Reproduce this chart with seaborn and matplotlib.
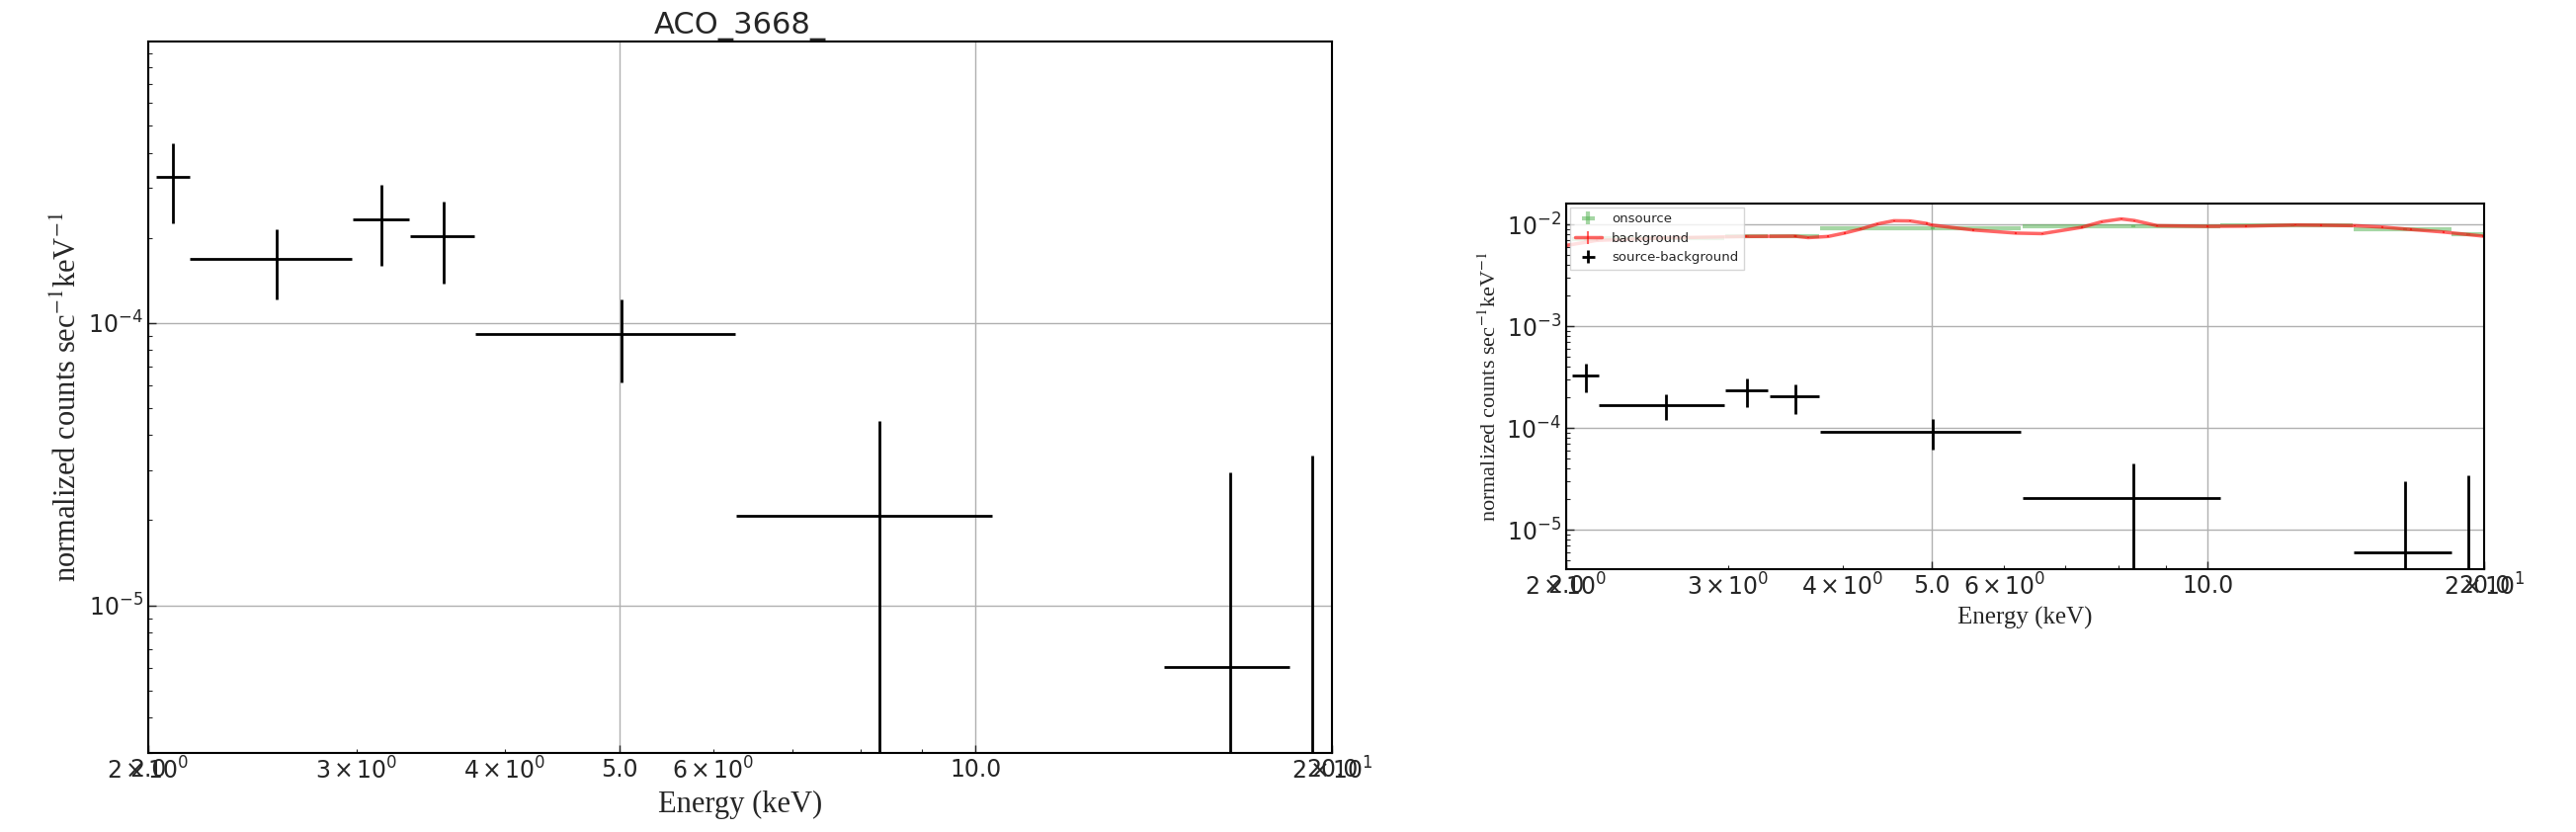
import numpy as np
import matplotlib
matplotlib.use("Agg")
import matplotlib.pyplot as plt
from matplotlib.ticker import FormatStrFormatter
import seaborn as sns

# source - background spectrum (keV, counts/s/keV)
SRC_E = [2.10, 2.57, 3.15, 3.55, 5.02, 8.30, 16.42, 19.23]
SRC_E_ERR = [0.07, 0.40, 0.17, 0.22, 1.24, 2.02, 2.00, 0.82]
SRC_RATE = [3.29e-4, 1.68e-4, 2.33e-4, 2.03e-4, 9.13e-5, 2.07e-5, 6.04e-6, 1.0e-6]
SRC_RATE_ERR = [1.04e-4, 0.47e-4, 0.74e-4, 0.65e-4, 3.0e-5, 2.41e-5, 2.36e-5, 3.3e-5]

# onsource spectrum, same binning (plus one bin that is negative after subtraction)
ON_E = [2.10, 2.57, 3.15, 3.55, 5.02, 8.30, 12.36, 16.42, 19.23]
ON_E_ERR = [0.07, 0.40, 0.17, 0.22, 1.24, 2.02, 2.04, 2.00, 0.82]
ON_RATE = [7.2e-3, 7.4e-3, 7.7e-3, 7.7e-3, 9.15e-3, 9.6e-3, 9.7e-3, 8.9e-3, 7.95e-3]
ON_RATE_ERR = [3e-4, 2e-4, 2e-4, 2e-4, 1.5e-4, 1.5e-4, 1.5e-4, 1.5e-4, 2e-4]

# background spectrum
BG_E = [2.00, 2.16, 2.55, 3.14, 3.55, 3.67, 3.86, 4.02, 4.19, 4.37, 4.55, 4.74,
        4.94, 5.00, 5.55, 6.18, 6.60, 7.29, 7.66, 8.05, 8.32, 8.81, 10.0, 11.0,
        12.47, 13.3, 14.47, 15.5, 16.65, 18.07, 19.97]
BG_RATE = [6.2e-3, 6.95e-3, 7.35e-3, 7.6e-3, 7.65e-3, 7.4e-3, 7.6e-3, 8.2e-3,
           9.0e-3, 1.01e-2, 1.085e-2, 1.08e-2, 1.02e-2, 9.85e-3, 8.8e-3, 8.2e-3,
           8.1e-3, 9.35e-3, 1.06e-2, 1.13e-2, 1.09e-2, 9.7e-3, 9.55e-3, 9.6e-3,
           9.85e-3, 9.8e-3, 9.7e-3, 9.4e-3, 8.9e-3, 8.4e-3, 7.65e-3]
BG_RATE_ERR = 1.5e-4

X_MAJOR = [2, 5, 10, 20]
YLABEL = r"normalized counts sec$^{-1}$keV$^{-1}$"
XLABEL = "Energy (keV)"
TITLE = "ACO_3668_"

sns.set_style("white", {
    "xtick.direction": "in", "ytick.direction": "in",
    "xtick.bottom": True, "ytick.left": True,
    "axes.edgecolor": "black",
})
plt.rcParams["mathtext.fontset"] = "stix"
plt.rcParams["font.family"] = ["DejaVu Sans"]


def style_axes(ax, ylim, tick_size, ylab_size, xlab_size):
    ax.set_xscale("log")
    ax.set_yscale("log")
    ax.set_xlim(2, 20)
    ax.set_ylim(*ylim)
    ax.set_xticks(X_MAJOR)
    ax.xaxis.set_major_formatter(FormatStrFormatter("%.1f"))
    ax.xaxis.remove_overlapping_locs = False
    ax.grid(True, which="major", color="#b0b0b0", linewidth=1.0)
    ax.tick_params(which="both", direction="in", labelsize=tick_size,
                   bottom=True, left=True, top=False, right=False)
    ax.tick_params(which="major", length=6, width=1)
    ax.tick_params(which="minor", length=3, width=0.8)
    for sp in ax.spines.values():
        sp.set_color("black")
        sp.set_linewidth(1.5)
    ax.set_ylabel(YLABEL, fontsize=ylab_size, family="Liberation Serif")
    ax.set_xlabel(XLABEL, fontsize=xlab_size, family="Liberation Serif")


fig = plt.figure(figsize=(26.07, 8.42), dpi=100)
ax1 = fig.add_axes([150 / 2607, 80 / 842, 1198 / 2607, 720 / 842])
ax2 = fig.add_axes([1585 / 2607, 266 / 842, 929 / 2607, 370 / 842])

# left panel: source - background only
ax1.errorbar(SRC_E, SRC_RATE, xerr=SRC_E_ERR, yerr=SRC_RATE_ERR,
             fmt="none", ecolor="black", elinewidth=2.0)
style_axes(ax1, (3.0e-6, 9.9e-4), 17, 22, 22)
ax1.set_title(TITLE, fontsize=22)

# right panel: onsource, background and difference
ax2.errorbar(ON_E, ON_RATE, xerr=ON_E_ERR, yerr=ON_RATE_ERR, fmt="none",
             ecolor="#4daf4a", elinewidth=3, alpha=0.5, label="onsource")
ax2.errorbar(BG_E, BG_RATE, yerr=BG_RATE_ERR, fmt="-", color="red",
             ecolor="red", linewidth=2.5, elinewidth=1.5, alpha=0.6,
             label="background")
ax2.errorbar(SRC_E, SRC_RATE, xerr=SRC_E_ERR, yerr=SRC_RATE_ERR,
             fmt="none", ecolor="black", elinewidth=2.0,
             label="source-background")
style_axes(ax2, (4.1e-6, 1.6e-2), 17, 16, 18)
ax2.legend(loc="upper left", fontsize=9.5, frameon=True, framealpha=0.8,
           edgecolor="#cccccc", fancybox=False, borderaxespad=0.3)

fig.savefig("out.png", dpi=100)
